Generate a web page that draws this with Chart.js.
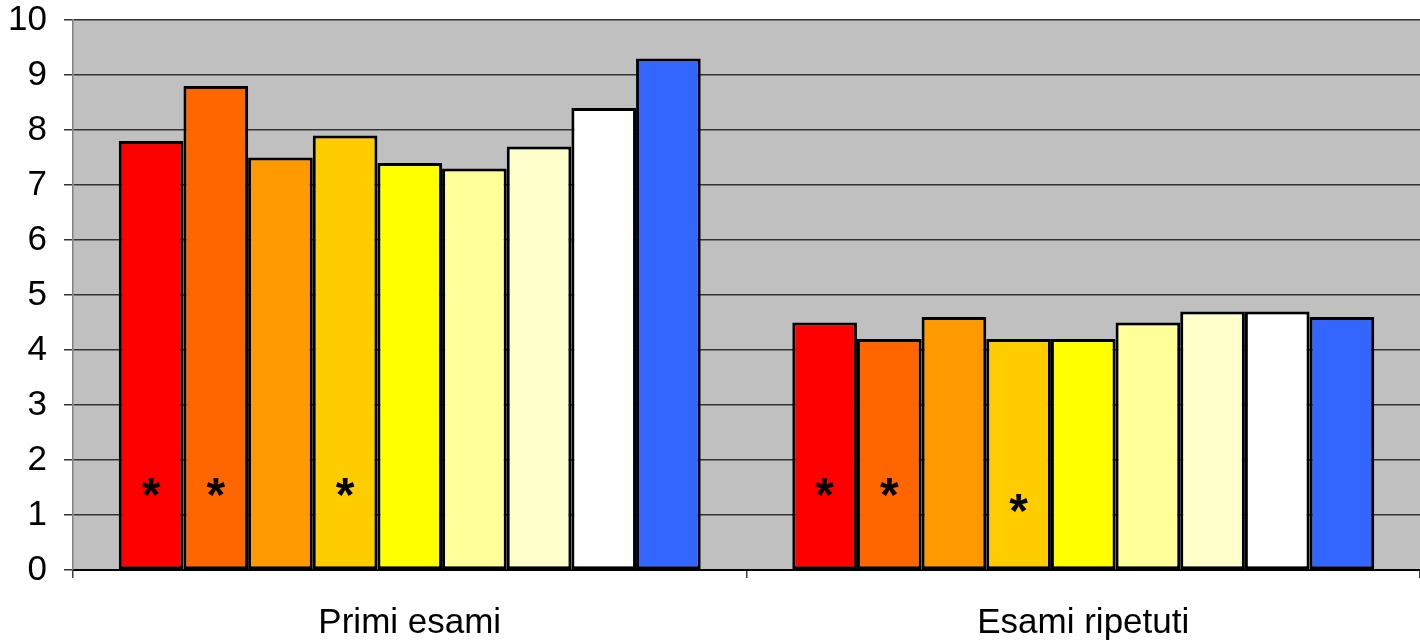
<!DOCTYPE html>
<html>
<head>
<meta charset="utf-8">
<script src="https://cdn.jsdelivr.net/npm/chart.js@4.4.1/dist/chart.umd.min.js"></script>
<style>
  html, body { margin: 0; padding: 0; background: #ffffff; }
  #wrap { width: 1420px; height: 642px; }
</style>
</head>
<body>
<div id="wrap"><canvas id="c" width="1420" height="642"></canvas></div>
<script>
// ---- data ----
const categories = ["Primi esami", "Esami ripetuti"];
const seriesNames = ["Serie 1", "Serie 2", "Serie 3", "Serie 4", "Serie 5", "Serie 6", "Serie 7", "Serie 8", "Serie 9"];
const serie1 = [7.8, 4.5];
const serie2 = [8.8, 4.2];
const serie3 = [7.5, 4.6];
const serie4 = [7.9, 4.2];
const serie5 = [7.4, 4.2];
const serie6 = [7.3, 4.5];
const serie7 = [7.7, 4.7];
const serie8 = [8.4, 4.7];
const serie9 = [9.3, 4.6];
const seriesValues = [serie1, serie2, serie3, serie4, serie5, serie6, serie7, serie8, serie9];
// asterisk markers (value on the y scale where the "*" sits), null = none
const markers1 = [1.5, 1.5];
const markers2 = [1.5, 1.5];
const markers4 = [1.5, 1.2];
const seriesMarkers = [markers1, markers2, null, markers4, null, null, null, null, null];
const yTicks = [0, 1, 2, 3, 4, 5, 6, 7, 8, 9, 10];

// ---- styles ----
const colors = ["#FF0000", "#FF6600", "#FF9900", "#FFCC00", "#FFFF00", "#FFFF99", "#FFFFCC", "#FFFFFF", "#3366FF"];
const FONT = "'Liberation Sans', Arial, sans-serif";

const bgPlugin = {
  id: 'plotBg',
  beforeDraw(chart) {
    const a = chart.chartArea, ctx = chart.ctx;
    ctx.save();
    ctx.fillStyle = '#C0C0C0';
    ctx.fillRect(a.left, a.top, a.right - a.left, a.bottom - a.top);
    ctx.restore();
  }
};

const markerPlugin = {
  id: 'asterisks',
  afterDatasetsDraw(chart) {
    const ctx = chart.ctx, y = chart.scales.y;
    ctx.save();
    ctx.fillStyle = '#000';
    ctx.font = "bold 48px " + FONT;
    ctx.textAlign = 'center';
    ctx.textBaseline = 'middle';
    seriesMarkers.forEach((m, i) => {
      if (!m) return;
      const meta = chart.getDatasetMeta(i);
      m.forEach((v, j) => {
        if (v === null || v === undefined) return;
        const el = meta.data[j];
        ctx.fillText('*', el.x, y.getPixelForValue(v) + 10);
      });
    });
    ctx.restore();
  }
};

new Chart(document.getElementById('c'), {
  type: 'bar',
  data: {
    labels: categories,
    datasets: seriesValues.map((vals, i) => ({
      label: seriesNames[i],
      data: vals,
      backgroundColor: colors[i],
      borderColor: '#000000',
      borderWidth: 3,
      borderSkipped: false,
      categoryPercentage: 0.864,
      barPercentage: 1.0
    }))
  },
  options: {
    responsive: false,
    animation: false,
    devicePixelRatio: 1,
    layout: { padding: { top: 20, right: 0, left: 0, bottom: 0 } },
    plugins: { legend: { display: false }, tooltip: { enabled: false } },
    scales: {
      x: {
        offset: true,
        grid: { display: true, drawOnChartArea: false, offset: true, color: '#404040', lineWidth: 1.5, tickLength: 8 },
        border: { display: true, color: '#000000', width: 2 },
        ticks: { color: '#000', font: { family: FONT, size: 35 }, padding: 24, maxRotation: 0 },
        afterFit(s) { s.height = 72; s.paddingLeft = 0; s.paddingRight = 0; }
      },
      y: {
        min: 0, max: 10,
        afterBuildTicks(s) { s.ticks = yTicks.map(v => ({ value: v })); },
        grid: { color: '#333333', lineWidth: 1.5, tickLength: 9 },
        border: { display: true, color: '#808080', width: 1.5 },
        ticks: { color: '#000', font: { family: FONT, size: 35 }, padding: 17 },
        afterFit(s) { s.width = 73; s.paddingTop = 0; s.paddingBottom = 0; }
      }
    }
  },
  plugins: [bgPlugin, markerPlugin]
});
</script>
</body>
</html>
